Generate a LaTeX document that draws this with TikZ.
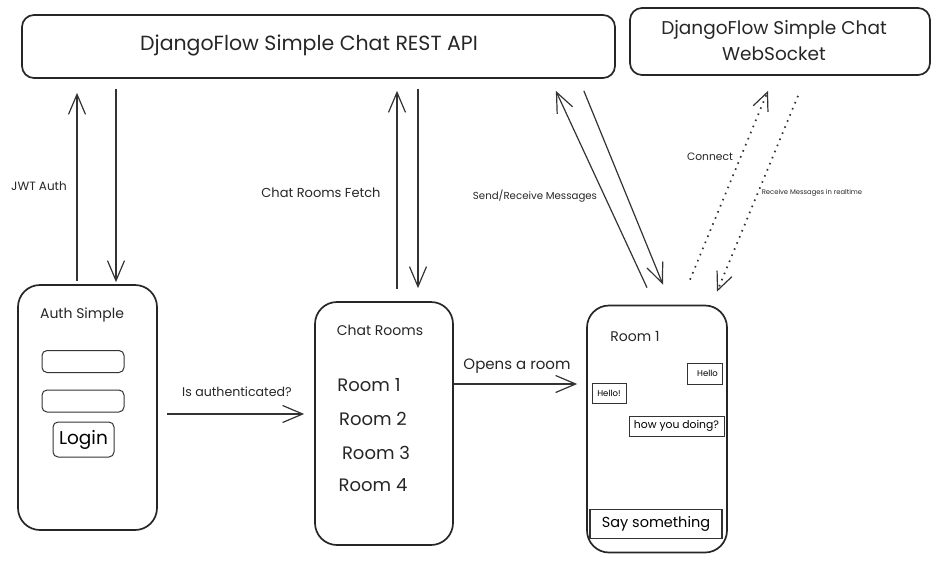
\documentclass[tikz,border=0pt]{standalone}
\usepackage{fontspec}
\setmainfont{Poppins}
\usetikzlibrary{arrows.meta,calc}
\newcommand{\fsz}[1]{\fontsize{#1}{#1}\selectfont}
\begin{document}
\begin{tikzpicture}[x=1pt,y=-1pt,
  box/.style={draw=black!85,line width=1.7pt,rounded corners=12pt,inner sep=0pt},
  phone/.style={draw=black!85,line width=1.7pt,rounded corners=22pt,inner sep=0pt},
  field/.style={draw=black!80,line width=1pt,rounded corners=5pt,inner sep=0pt},
  bubble/.style={draw=black!80,line width=0.9pt,inner sep=0pt,font=\fsz{8.5}},
  arr/.style={draw=black!80,line width=1.2pt,-{Straight Barb[length=20pt,width=17pt,line width=1.2pt]}},
  darr/.style={draw=black!80,line width=1.7pt,dash pattern=on 1.6pt off 5pt,
     -{Straight Barb[length=18pt,width=16pt,line width=1.2pt,sep=0pt]}},
  lbl/.style={inner sep=0pt,text=black!85}
]
\useasboundingbox (0,0) rectangle (937,560);
% top boxes
\node[box,minimum width=593pt,minimum height=63pt] (rest) at (318.5,46.5) {};
\node[lbl,font=\fsz{20.5}] (resttext) at (309,45) {DjangoFlow Simple Chat REST API};
\node[box,minimum width=300pt,minimum height=67pt] (ws) at (780,41.5) {};
\node[lbl,align=center,font=\fontsize{18.5}{26}\selectfont] (wstext) at (774,41) {DjangoFlow Simple Chat\\WebSocket};
% auth
\node[phone,minimum width=139pt,minimum height=245pt] (auth) at (87.5,407.5) {};
\node[lbl,font=\fsz{14}] (authtitle) at (82,315) {Auth Simple};
\node[field,minimum width=82pt,minimum height=22pt] (f1) at (83,361.5) {};
\node[field,minimum width=82pt,minimum height=22pt] (f2) at (83,401) {};
\node[field,minimum width=61pt,minimum height=35pt,font=\fsz{18.5}] (login) at (83.5,439.5) {Login};
% chat rooms
\node[phone,minimum width=138pt,minimum height=243pt] (rooms) at (384,423.5) {};
\node[lbl,font=\fsz{14}] (roomstitle) at (380,330) {Chat Rooms};
\node[lbl,font=\fsz{18}] (r1) at (369,385) {Room 1};
\node[lbl,font=\fsz{18}] (r2) at (373,419) {Room 2};
\node[lbl,font=\fsz{18}] (r3) at (376,453) {Room 3};
\node[lbl,font=\fsz{18}] (r4) at (373,485) {Room 4};
% room 1
\node[phone,minimum width=140pt,minimum height=247pt] (room) at (657,429) {};
\node[lbl,font=\fsz{14}] (roomtitle) at (635,336) {Room 1};
\node[bubble,minimum width=35pt,minimum height=21pt] (b1) at (704.5,373.5) {\hspace*{6pt}Hello};
\node[bubble,minimum width=34pt,minimum height=20pt] (b2) at (609,393) {Hello!};
\node[bubble,minimum width=95pt,minimum height=20pt,font=\fsz{10.8}] (b3) at (676.5,426) {how you doing?};
\node[draw=black!80,line width=1.1pt,inner sep=0pt,minimum width=132pt,minimum height=29pt,font=\fsz{14.5}] (say) at (656,524) {Say something};
% vertical arrows
\draw[arr] ($(auth.north)+(-10.5,-3)$) -- ($(auth.north |- rest.south)+(-10.5,14)$);
\draw[arr] ($(auth.north |- rest.south)+(28.5,10)$) -- ($(auth.north)+(28.5,-2)$);
\node[lbl,font=\fsz{12}] (jwt) at (39,186) {JWT Auth};
\draw[arr] ($(rooms.north)+(13,-12)$) -- ($(rooms.north |- rest.south)+(13,12)$);
\draw[arr] ($(rooms.north |- rest.south)+(34,10)$) -- ($(rooms.north)+(34,-13)$);
\node[lbl,font=\fsz{13}] (fetch) at (321,193) {Chat Rooms Fetch};
% diagonal arrows
\draw[arr] ($(room.north)+(-10,-17)$) -- ($(rest.south east)+(-60,12)$);
\draw[arr] ($(rest.south east)+(-32,12)$) -- ($(room.north)+(6,-20)$);
\node[lbl,font=\fsz{10.2}] (sendrecv) at (535,196) {Send/Receive Messages};
% dotted
\draw[darr] ($(room.north)+(33,-25)$) -- ($(ws.south)+(-12,15)$);
\draw[darr] ($(ws.south)+(18,20)$) -- ($(room.north)+(60,-13)$);
\node[lbl,font=\fsz{10.7}] (connect) at (710,157) {Connect};
\node[lbl,font=\fsz{6.8}] (realtime) at (812,193) {Receive Messages in realtime};
% horizontal arrows
\draw[arr] ($(auth.east)+(9,6.5)$) -- ($(rooms.west)+(-10,-9.5)$);
\node[lbl,font=\fsz{12.6}] (isauth) at (237,392) {Is authenticated?};
\draw[arr] ($(rooms.east)+(0,-39.5)$) -- ($(room.west)+(-9,-45)$);
\node[lbl,font=\fsz{15}] (opens) at (517,366) {Opens a room};
\end{tikzpicture}
\end{document}
